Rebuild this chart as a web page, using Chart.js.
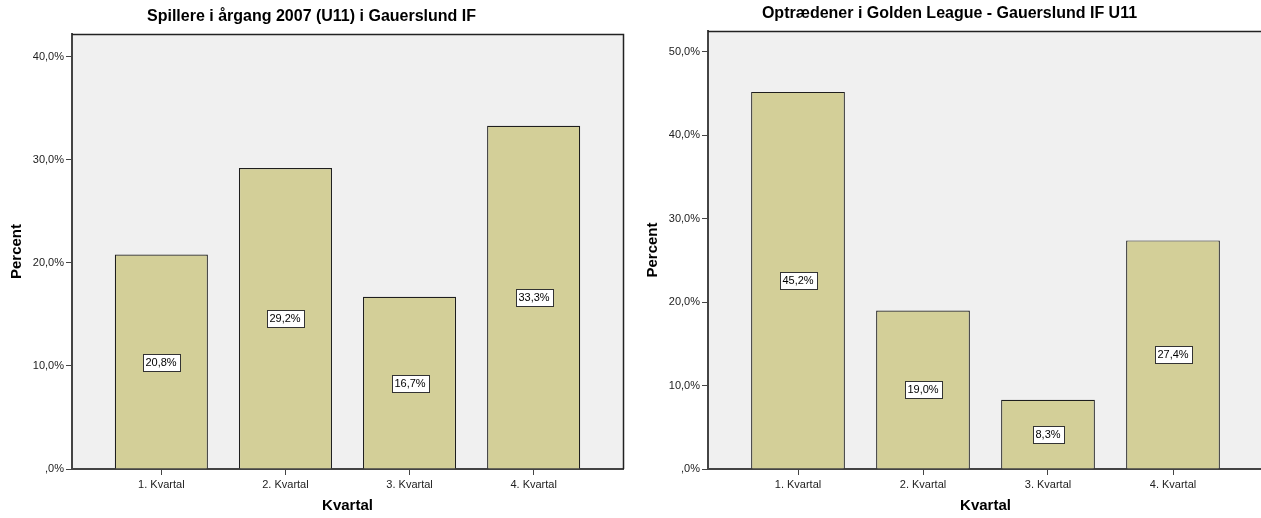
<!DOCTYPE html>
<html>
<head>
<meta charset="utf-8">
<script src="https://cdn.jsdelivr.net/npm/chart.js@4.4.0/dist/chart.umd.min.js"></script>
<style>
    html, body { margin: 0; padding: 0; background: #fff; overflow: hidden; width: 1261px; height: 518px; }
    canvas { position: absolute; top: 0; }
    #chartLeft { left: 0; }
    #chartRight { left: 636px; }
</style>
</head>
<body>
<canvas id="chartLeft" width="640" height="518"></canvas>
<canvas id="chartRight" width="640" height="518"></canvas>
<script>
const categories = ['1. Kvartal', '2. Kvartal', '3. Kvartal', '4. Kvartal'];

const spillereValues = [20.8, 29.2, 16.7, 33.3];
const optraedenerValues = [45.2, 19.0, 8.3, 27.4];

const spillereTitle = 'Spillere i årgang 2007 (U11) i Gauerslund IF';
const optraedenerTitle = 'Optrædener i Golden League - Gauerslund IF U11';

const yTickValues = [0, 10, 20, 30, 40, 50];

const fontName = '"Liberation Sans", Arial, sans-serif';

function pctFormat(v) {
    return v === 0 ? ',0%' : v.toFixed(1).replace('.', ',') + '%';
}

const plotFrame = {
    id: 'plotFrame',
    beforeDraw(chart) {
        let a = chart.chartArea;
        let ctx = chart.ctx;
        ctx.save();
        ctx.fillStyle = '#f0f0f0';
        ctx.fillRect(a.left, a.top, a.right - a.left, a.bottom - a.top);
        ctx.restore();
    },
    afterDraw(chart) {
        let a = chart.chartArea;
        let ctx = chart.ctx;
        ctx.save();
        ctx.strokeStyle = '#222';
        ctx.lineWidth = 1.5;
        ctx.beginPath();
        ctx.moveTo(a.left, a.top + 0.5);
        ctx.lineTo(a.right + 0.5, a.top + 0.5);
        ctx.lineTo(a.right + 0.5, a.bottom);
        ctx.stroke();
        ctx.restore();
    }
};

const barLabels = {
    id: 'barLabels',
    afterDatasetsDraw(chart) {
        let ctx = chart.ctx;
        let meta = chart.getDatasetMeta(0);
        let values = chart.data.datasets[0].data;
        ctx.save();
        ctx.font = '11px ' + fontName;
        ctx.textAlign = 'center';
        ctx.textBaseline = 'middle';
        meta.data.forEach((bar, i) => {
            let text = pctFormat(values[i].y);
            let w = Math.round(ctx.measureText(text).width) + 6;
            let h = 17;
            let cx = Math.round(bar.x);
            let cy = Math.round((bar.y + bar.base) / 2);
            let x0 = Math.round(cx - w / 2) + 0.5;
            let y0 = Math.round(cy - h / 2) + 0.5;
            ctx.fillStyle = '#fff';
            ctx.fillRect(x0, y0, w, h);
            ctx.strokeStyle = '#333';
            ctx.lineWidth = 1;
            ctx.strokeRect(x0, y0, w, h);
            ctx.fillStyle = '#000';
            ctx.fillText(text, cx, cy + 1);
        });
        ctx.restore();
    }
};

function makeChart(canvasId, title, values, yMax, titleTop, rightPad) {
    let points = values.map((v, i) => ({ x: i, y: v }));

    let config = {
        type: 'bar',
        data: {
            datasets: [{
                data: points,
                backgroundColor: '#d3cf98',
                borderColor: '#1e1e1e',
                borderWidth: 1.2,
                barPercentage: 0.75,
                categoryPercentage: 1
            }]
        },
        options: {
            responsive: false,
            animation: false,
            devicePixelRatio: 1,
            layout: { padding: { left: 0, right: rightPad, top: 0, bottom: 0 } },
            plugins: {
                legend: { display: false },
                tooltip: { enabled: false },
                title: {
                    display: true,
                    text: title,
                    fullSize: true,
                    color: '#000',
                    font: { family: fontName, size: 16, weight: 'bold', lineHeight: '18px' },
                    padding: { top: titleTop, bottom: 8 }
                }
            },
            scales: {
                x: {
                    type: 'linear',
                    min: -0.72,
                    max: 3.72,
                    offset: false,
                    afterFit: s => { s.height = 49; },
                    afterBuildTicks: s => {
                        s.ticks = s.ticks.filter(t => Math.abs(t.value - Math.round(t.value)) < 1e-6 && t.value >= 0 && t.value <= 3);
                    },
                    ticks: {
                        stepSize: 1,
                        autoSkip: false,
                        maxRotation: 0,
                        padding: 3,
                        color: '#222',
                        font: { family: fontName, size: 11 },
                        callback: v => categories[Math.round(v)]
                    },
                    grid: { offset: false, drawOnChartArea: false, drawTicks: true, tickLength: 6, color: '#444' },
                    border: { display: true, color: '#444', width: 2 },
                    title: {
                        display: true,
                        text: 'Kvartal',
                        color: '#000',
                        font: { family: fontName, size: 15, weight: 'bold' },
                        padding: { top: 0, bottom: 3 }
                    }
                },
                y: {
                    min: 0,
                    max: yMax,
                    afterFit: s => { s.width = 72; },
                    afterBuildTicks: s => {
                        s.ticks = yTickValues.filter(v => v <= yMax).map(v => ({ value: v }));
                    },
                    ticks: {
                        padding: 2,
                        color: '#222',
                        font: { family: fontName, size: 11 },
                        callback: v => pctFormat(v)
                    },
                    grid: { drawOnChartArea: false, drawTicks: true, tickLength: 6, color: '#444' },
                    border: { display: true, color: '#444', width: 2 },
                    title: {
                        display: true,
                        text: 'Percent',
                        color: '#000',
                        font: { family: fontName, size: 15, weight: 'bold' },
                        padding: { top: 8, bottom: 0 }
                    }
                }
            }
        },
        plugins: [plotFrame, barLabels]
    };

    return new Chart(document.getElementById(canvasId), config);
}

let leftChart = makeChart('chartLeft', spillereTitle, spillereValues, 42.2, 8, 17);
let rightChart = makeChart('chartRight', optraedenerTitle, optraedenerValues, 52.5, 5, 13);
</script>
</body>
</html>
